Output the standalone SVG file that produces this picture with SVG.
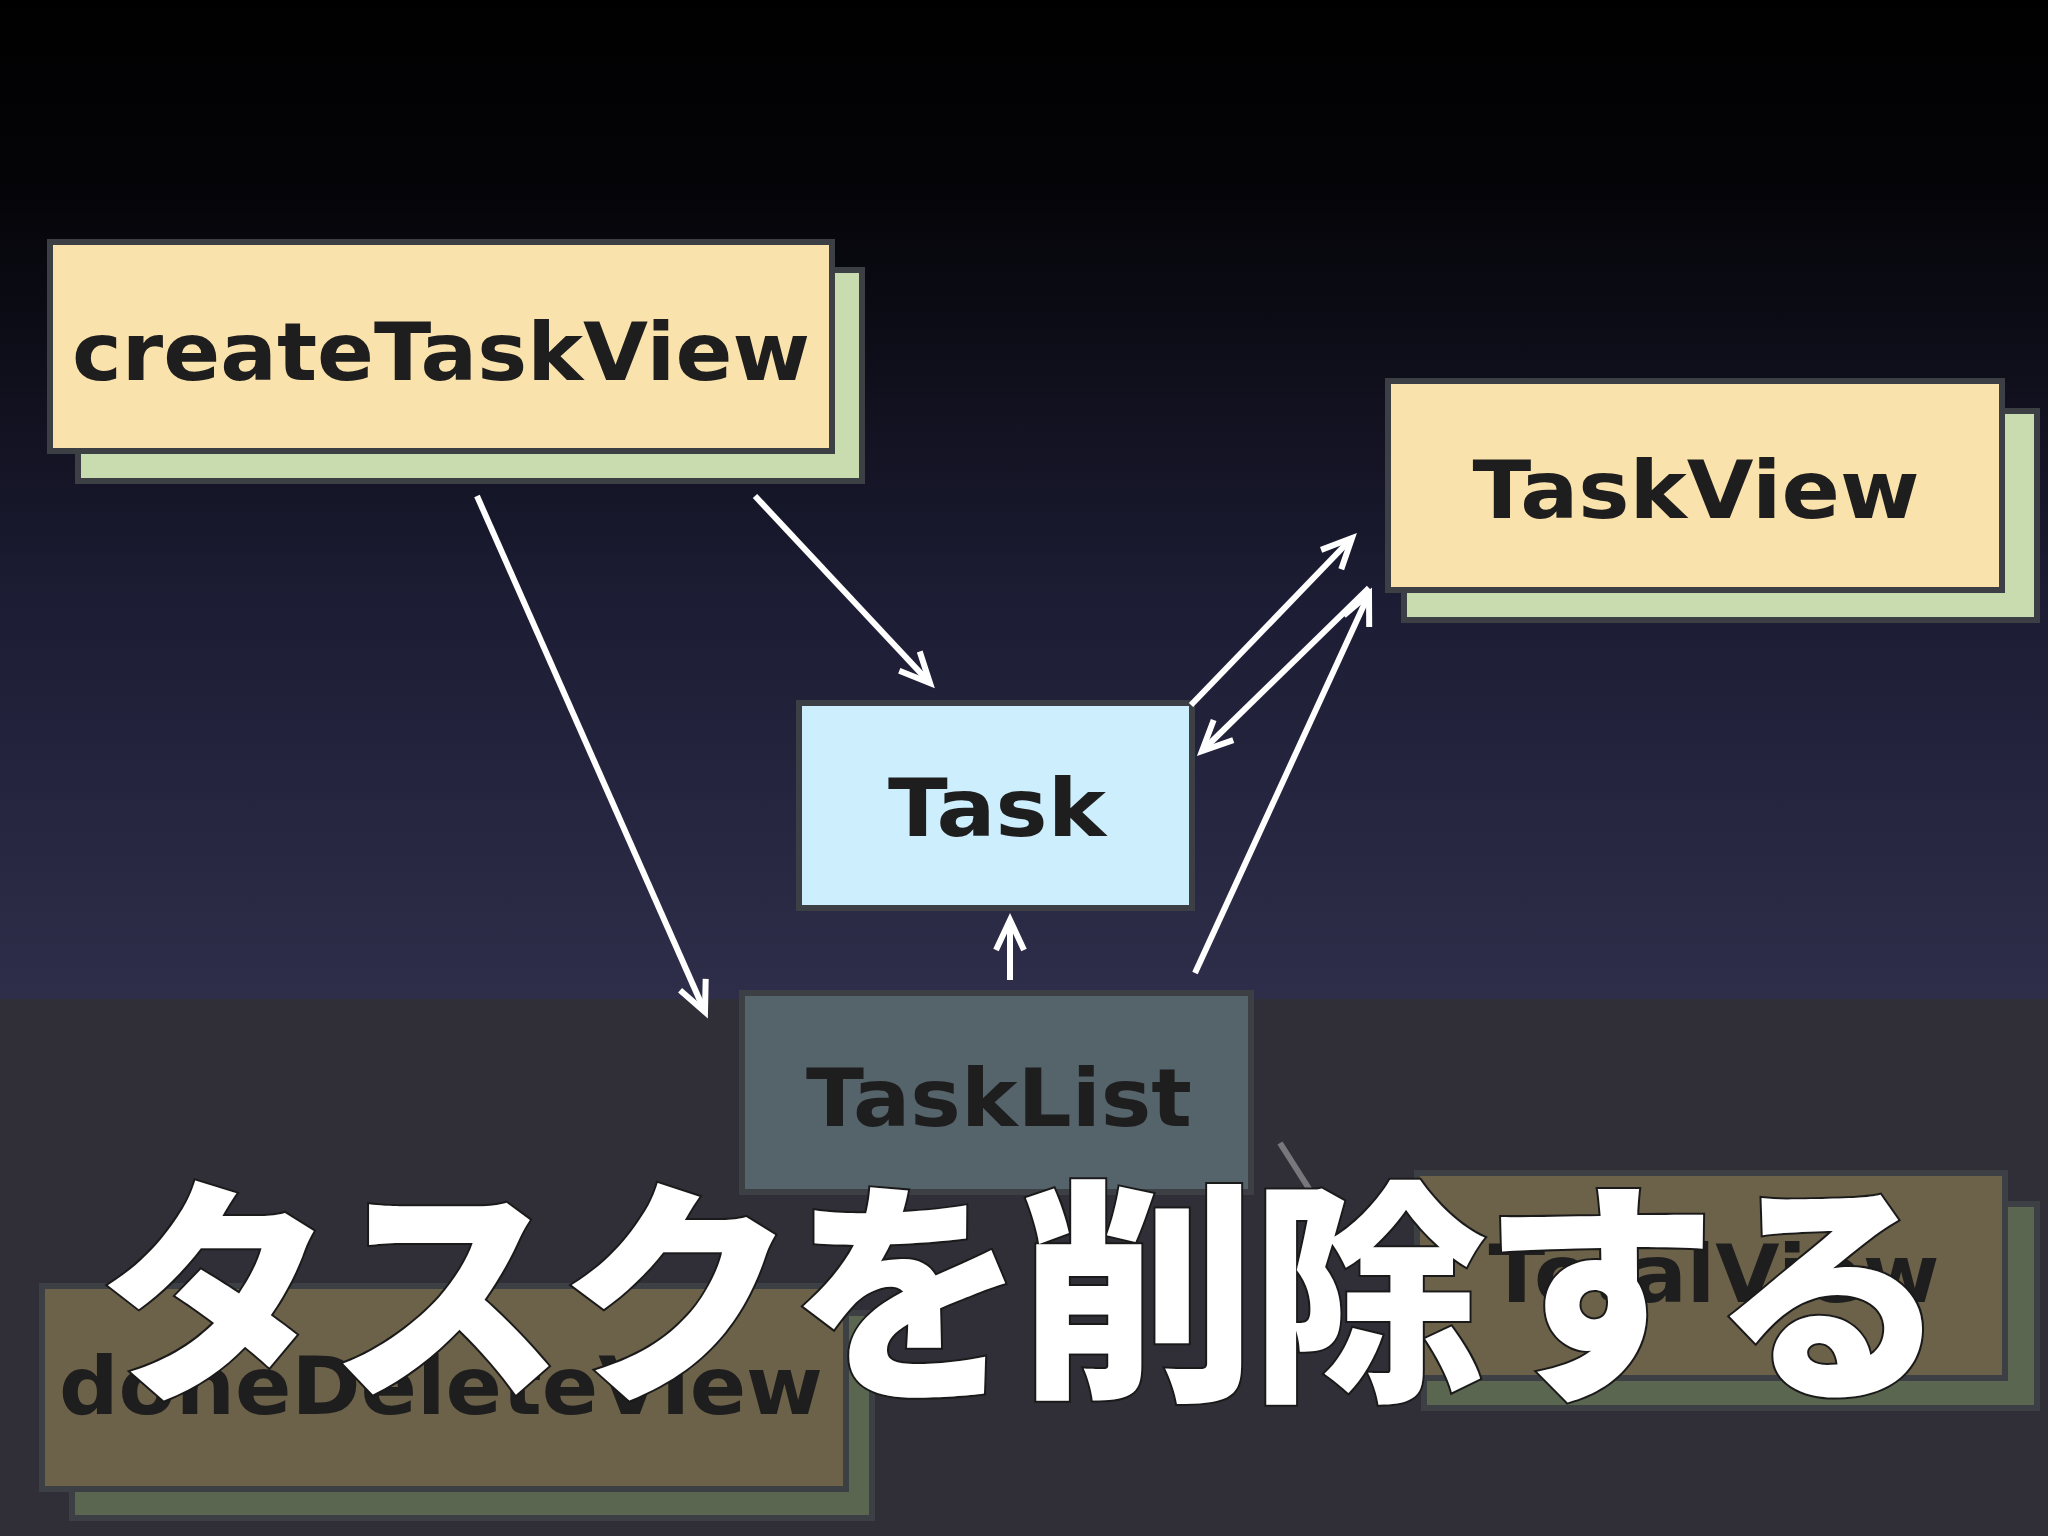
<svg xmlns="http://www.w3.org/2000/svg" width="2048" height="1536" viewBox="0 0 2048 1536">
<defs>
<linearGradient id="bg" x1="0" y1="0" x2="0" y2="1">
<stop offset="0" stop-color="#000000"/>
<stop offset="0.2" stop-color="#050509"/>
<stop offset="0.6" stop-color="#1c1c34"/>
<stop offset="1" stop-color="#2e2e4a"/>
</linearGradient>
<marker id="ah" viewBox="0 0 40 40" refX="36" refY="20" markerWidth="40" markerHeight="40" orient="auto" markerUnits="userSpaceOnUse" style="overflow:visible">
<path d="M6,6 L36,20 L6,34" fill="none" stroke="#fff" stroke-width="6"/>
</marker>
<style>
.lbl{font-family:"DejaVu Sans","Lato",sans-serif;font-weight:bold;text-anchor:middle;fill:#1e1e1e}
.node{stroke:#3c4044;stroke-width:6}
.con{stroke:#fff;stroke-width:6;fill:none;marker-end:url(#ah)}
</style>
</defs>
<rect x="0" y="0" width="2048" height="999" fill="url(#bg)"/>
<rect x="0" y="999" width="2048" height="537" fill="#302f37"/>

<g id="createTaskView">
<rect class="node" x="78" y="270" width="784" height="211" fill="#c8dcb0"/>
<rect class="node" x="50" y="242" width="782" height="209" fill="#fae2ac"/>
<text class="lbl" x="441" y="380" font-size="80" textLength="738" lengthAdjust="spacingAndGlyphs">createTaskView</text>
</g>
<g id="TaskView">
<rect class="node" x="1404" y="411" width="633" height="209" fill="#c8dcb0"/>
<rect class="node" x="1388" y="381" width="614" height="209" fill="#fae2ac"/>
<text class="lbl" x="1696" y="518" font-size="80" textLength="447" lengthAdjust="spacingAndGlyphs">TaskView</text>
</g>
<g id="Task">
<rect class="node" x="799" y="703" width="393" height="205" fill="#cdeefc"/>
<text class="lbl" x="997" y="836" font-size="80" textLength="218" lengthAdjust="spacingAndGlyphs">Task</text>
</g>
<g id="TaskList">
<rect class="node" x="742" y="993" width="509" height="199" fill="#55636a" stroke="#2c3033"/>
<text class="lbl" x="999" y="1126" font-size="80" textLength="386" lengthAdjust="spacingAndGlyphs">TaskList</text>
</g>
<g id="doneDeleteView">
<rect class="node" x="72" y="1313" width="800" height="205" fill="#5a6650" stroke="#2a2c2c"/>
<rect class="node" x="42" y="1286" width="804" height="203" fill="#6c6149" stroke="#2a2c2c"/>
<text class="lbl" x="441" y="1414" font-size="80" textLength="764" lengthAdjust="spacingAndGlyphs">doneDeleteView</text>
</g>
<g id="TotalView">
<rect class="node" x="1424" y="1204" width="613" height="204" fill="#5a6650" stroke="#2a2c2c"/>
<rect class="node" x="1417" y="1173" width="588" height="205" fill="#6c6149" stroke="#2a2c2c"/>
<text class="lbl" x="1714" y="1302" font-size="80" textLength="451" lengthAdjust="spacingAndGlyphs">TotalView</text>
</g>

<g id="connectors">
<path class="con" d="M477,496 L705,1012"/>
<path class="con" d="M755,496 L930,683"/>
<path class="con" d="M1191,705 L1352,538"/>
<path class="con" d="M1369,588 L1202,751"/>
<path class="con" d="M1195,973 L1369,594"/>
<path class="con" d="M1010,980 L1010,920"/>
<path d="M1280,1143 L1313,1195" stroke="#77777c" stroke-width="6"/>
</g>

<text x="98" y="1382" font-family="Noto Sans CJK JP, sans-serif" font-weight="900" font-size="236" fill="#ffffff" stroke="#1a1a1a" stroke-width="4" paint-order="stroke" textLength="1850" lengthAdjust="spacing">タスクを削除する</text>
</svg>
